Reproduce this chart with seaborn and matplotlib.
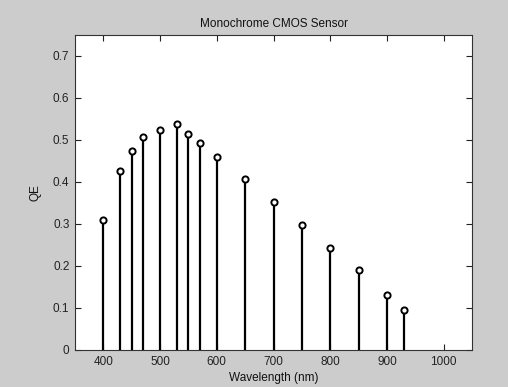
import matplotlib
matplotlib.use("Agg")
import matplotlib.pyplot as plt
import seaborn as sns
import pandas as pd

wavelength = [400, 430, 450, 470, 500, 530, 550, 570, 600, 650, 700, 750, 800, 850, 900, 930]
qe = [0.310, 0.427, 0.473, 0.508, 0.525, 0.537, 0.515, 0.493, 0.460, 0.408,
      0.352, 0.298, 0.242, 0.190, 0.130, 0.095]
x_ticks = [400, 500, 600, 700, 800, 900, 1000]
y_ticks = [0, 0.1, 0.2, 0.3, 0.4, 0.5, 0.6, 0.7]
y_tick_labels = ["0", "0.1", "0.2", "0.3", "0.4", "0.5", "0.6", "0.7"]

sns.set_style("ticks")
plt.rcParams["font.family"] = ["Liberation Sans", "DejaVu Sans"]

df = pd.DataFrame({"Wavelength": wavelength, "QE": qe})

fig = plt.figure(figsize=(5.08, 3.87), dpi=100, facecolor="#cccccc")
ax = fig.add_axes([75 / 508, 37 / 387, 397 / 508, 315 / 387])
ax.set_facecolor("white")

ax.vlines(df["Wavelength"], 0, df["QE"], color="black", linewidth=1.6, zorder=2)
sns.scatterplot(data=df, x="Wavelength", y="QE", ax=ax, marker="o", s=20,
                facecolor="white", edgecolor="black", linewidth=1.4, zorder=3,
                legend=False)

ax.set_xlim(350, 1050)
ax.set_ylim(0, 0.75)
ax.set_xticks(x_ticks)
ax.set_xticklabels([str(t) for t in x_ticks])
ax.set_yticks(y_ticks)
ax.set_yticklabels(y_tick_labels)
ax.tick_params(direction="in", length=4, width=0.8, labelsize=8.5, colors="#222222",
               top=True, right=True, pad=4)
for sp in ax.spines.values():
    sp.set_visible(True)
    sp.set_linewidth(0.8)
    sp.set_color("#333333")

ax.set_title("Monochrome CMOS Sensor", fontsize=8.5, pad=6, color="#111111")
ax.set_xlabel("Wavelength (nm)", fontsize=8.5, labelpad=3, color="#111111")
ax.set_ylabel("QE", fontsize=8.5, labelpad=8, color="#111111")

fig.savefig("out.png", dpi=100, facecolor=fig.get_facecolor())
